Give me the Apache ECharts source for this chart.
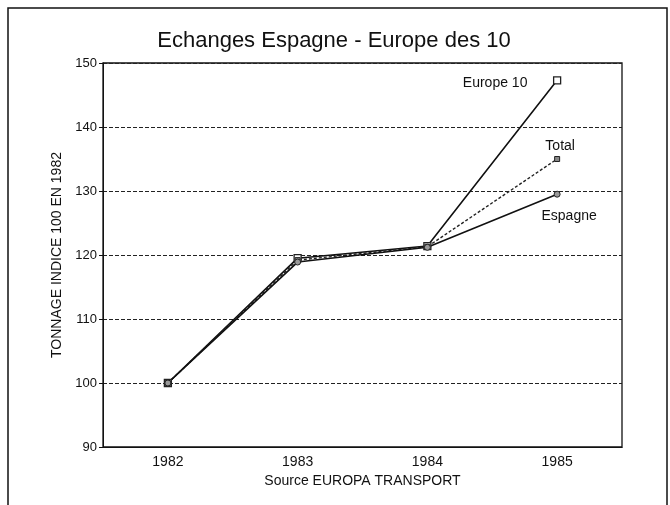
<!DOCTYPE html>
<html>
<head>
<meta charset="utf-8">
<script src="https://cdn.jsdelivr.net/npm/echarts@6/dist/echarts.min.js"></script>
<style>
    html, body { margin: 0; padding: 0; background: #fff; }
    #chart { width: 670px; height: 505px; }
</style>
</head>
<body>
<div id="chart"></div>
<script>
// values (index, 1982 = 100)
const years = ['1982', '1983', '1984', '1985'];
const europe10 = [100, 119.5, 121.4, 147.3];
const total = [100, 119.2, 121.3, 135.0];
const espagne = [100, 118.9, 121.2, 129.5];
const yTicks = { min: 90, max: 150, step: 10 };

const font = 'Liberation Sans, Arial, sans-serif';
const chart = echarts.init(document.getElementById('chart'));

// label only on the last point, like the hand-placed notes in the original
function lastLabel(name, offset) {
    return {
        show: true,
        formatter: (p) => (p.dataIndex === years.length - 1 ? name : ''),
        position: 'top',
        offset: offset,
        color: '#111',
        fontFamily: font,
        fontSize: 14
    };
}

chart.setOption({
    animation: false,
    title: {
        text: 'Echanges Espagne - Europe des 10',
        left: 329,
        textAlign: 'center',
        top: 25,
        textStyle: { fontFamily: font, fontSize: 22, fontWeight: 'normal', color: '#111' }
    },
    graphic: [{
        type: 'rect',
        shape: { x: 8, y: 8, width: 659, height: 520 },
        style: { fill: 'none', stroke: '#111', lineWidth: 1.5 }
    }],
    grid: { left: 103, right: 48, top: 63, bottom: 58, show: true, borderColor: '#111', borderWidth: 1.3 },
    xAxis: {
        type: 'category',
        data: years,
        boundaryGap: true,
        name: 'Source EUROPA TRANSPORT',
        nameLocation: 'middle',
        nameGap: 25,
        nameTextStyle: { fontFamily: font, fontSize: 14, color: '#111' },
        axisLine: { lineStyle: { color: '#111' } },
        axisTick: { alignWithLabel: true, length: 4, lineStyle: { color: '#111' } },
        axisLabel: { fontFamily: font, fontSize: 14, color: '#111', margin: 8 },
        splitLine: { show: false }
    },
    yAxis: {
        type: 'value',
        min: yTicks.min,
        max: yTicks.max,
        interval: yTicks.step,
        name: 'TONNAGE INDICE 100 EN 1982',
        nameLocation: 'middle',
        nameRotate: 90,
        nameGap: 36,
        nameTextStyle: { fontFamily: font, fontSize: 14, color: '#111' },
        axisLine: { show: true, lineStyle: { color: '#111' } },
        axisTick: { show: true, length: 4, lineStyle: { color: '#111' } },
        axisLabel: { fontFamily: font, fontSize: 13, color: '#111', margin: 6 },
        splitLine: { show: true, lineStyle: { color: '#222', type: [4, 2], width: 1 } }
    },
    series: [
        {
            name: 'Europe 10',
            type: 'line',
            data: europe10,
            symbol: 'rect',
            symbolSize: 7,
            itemStyle: { color: '#fff', borderColor: '#222', borderWidth: 1.3 },
            lineStyle: { color: '#111', width: 1.6 },
            label: lastLabel('Europe 10', [-62, 19])
        },
        {
            name: 'Total',
            type: 'line',
            data: total,
            symbol: 'rect',
            symbolSize: 5,
            itemStyle: { color: '#888', borderColor: '#222', borderWidth: 1 },
            lineStyle: { color: '#222', width: 1.4, type: [3, 2] },
            label: lastLabel('Total', [3, 2])
        },
        {
            name: 'Espagne',
            type: 'line',
            data: espagne,
            symbol: 'circle',
            symbolSize: 6,
            itemStyle: { color: '#999', borderColor: '#222', borderWidth: 1 },
            lineStyle: { color: '#111', width: 1.6 },
            label: lastLabel('Espagne', [12, 37])
        }
    ]
});
</script>
</body>
</html>
